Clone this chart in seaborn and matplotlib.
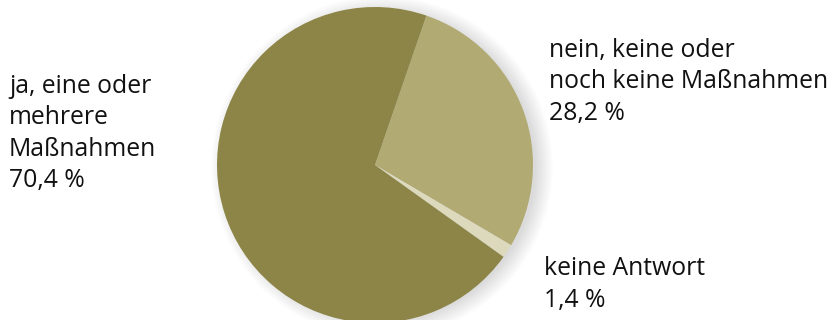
import matplotlib
matplotlib.use("Agg")
import matplotlib.pyplot as plt
import seaborn as sns
from matplotlib.patches import Circle

sns.set_theme(style="white")
plt.rcParams['font.family'] = ['Open Sans', 'DejaVu Sans']

# Data (clockwise order starting near the top)
categories = ["nein, keine oder\nnoch keine Maßnahmen", "keine Antwort", "ja, eine oder\nmehrere\nMaßnahmen"]
values = [28.2, 1.4, 70.4]
value_labels = ["28,2 %", "1,4 %", "70,4 %"]
colors = ["#b1aa73", "#dcd9bd", "#8d8547"]

W, H = 834, 320
fig = plt.figure(figsize=(W / 100, H / 100), dpi=100)
ax = fig.add_axes([0, 0, 1, 1])
ax.set_xlim(0, W)
ax.set_ylim(0, H)
ax.set_aspect("equal")
ax.axis("off")

cx, cy, r = 375, H - 165, 158

# soft shadow, mostly to the right
for i in range(18):
    ax.add_patch(Circle((cx + 7, cy - 2), r - 4 + i, color="black",
                        alpha=0.009, lw=0, zorder=1))

ax.pie(values, colors=colors, startangle=71, counterclock=False,
       center=(cx, cy), radius=r, frame=True,
       wedgeprops=dict(linewidth=0, zorder=2))
ax.set_xlim(0, W)
ax.set_ylim(0, H)
ax.axis("off")

fs = 17.8
lh = 31.5
# label blocks: (x, first baseline y from top)
blocks = [(549, 57), (544, 275), (9, 93)]
for (x, y0), cat, val in zip(blocks, categories, value_labels):
    lines = cat.split("\n") + [val]
    for k, line in enumerate(lines):
        ax.text(x, H - (y0 + k * lh), line, fontsize=fs, color="#111111",
                ha="left", va="baseline", zorder=5)

fig.savefig("out.png", dpi=100)
